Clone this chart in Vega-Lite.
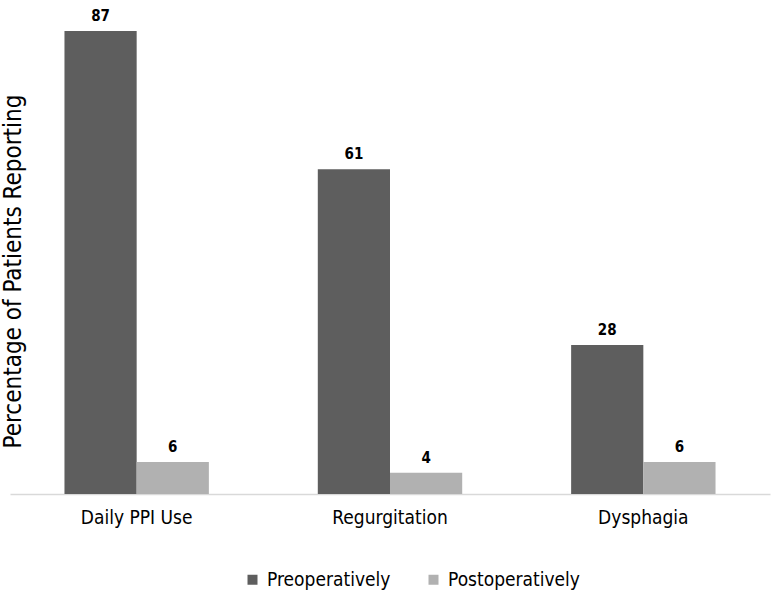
{
  "$schema": "https://vega.github.io/schema/vega-lite/v6.json",
  "autosize": {"type": "none"},
  "padding": {"left": 10, "top": 15, "right": 4, "bottom": 106},
  "width": 760,
  "height": 479,
  "background": "white",
  "config": {
    "view": {"stroke": null},
    "font": "Liberation Sans Narrow, DejaVu Sans Condensed, sans-serif"
  },
  "data": {
    "values": [
      {"symptom": "Daily PPI Use", "period": "Preoperatively", "pct": 87},
      {"symptom": "Daily PPI Use", "period": "Postoperatively", "pct": 6},
      {"symptom": "Regurgitation", "period": "Preoperatively", "pct": 61},
      {"symptom": "Regurgitation", "period": "Postoperatively", "pct": 4},
      {"symptom": "Dysphagia", "period": "Preoperatively", "pct": 28},
      {"symptom": "Dysphagia", "period": "Postoperatively", "pct": 6}
    ]
  },
  "encoding": {
    "x": {
      "field": "symptom",
      "type": "nominal",
      "sort": ["Daily PPI Use", "Regurgitation", "Dysphagia"],
      "scale": {"paddingInner": 0.43, "paddingOuter": 0.215},
      "axis": {
        "title": null,
        "labelAngle": 0,
        "labelFontSize": 19,
        "labelColor": "#000000",
        "labelPadding": 14,
        "ticks": false,
        "domainColor": "#d9d9d9",
        "domainWidth": 1.5
      }
    },
    "xOffset": {
      "field": "period",
      "type": "nominal",
      "sort": ["Preoperatively", "Postoperatively"]
    },
    "y": {
      "field": "pct",
      "type": "quantitative",
      "scale": {"domain": [0, 90]},
      "axis": {
        "title": "Percentage of Patients Reporting",
        "titleFontSize": 24,
        "titleFontWeight": "normal",
        "titleColor": "#000000",
        "titleX": 3,
        "titleY": 256,
        "titleAngle": -90,
        "titleAlign": "center",
        "titleBaseline": "middle",
        "labels": false,
        "ticks": false,
        "domain": false,
        "grid": false
      }
    }
  },
  "layer": [
    {
      "mark": {"type": "bar"},
      "encoding": {
        "color": {
          "field": "period",
          "type": "nominal",
          "sort": ["Preoperatively", "Postoperatively"],
          "scale": {"domain": ["Preoperatively", "Postoperatively"], "range": ["#5e5e5e", "#b1b1b1"]},
          "legend": {
            "title": null,
            "orient": "none",
            "direction": "horizontal",
            "legendX": 233,
            "legendY": 555,
            "symbolType": "square",
            "symbolSize": 100,
            "symbolStrokeWidth": 0,
            "labelFontSize": 19,
            "labelColor": "#000000",
            "columnPadding": 33,
            "labelOffset": 5
          }
        }
      }
    },
    {
      "mark": {"type": "text", "dy": -15, "fontSize": 15, "fontWeight": "bold", "color": "#000000"},
      "encoding": {
        "text": {"field": "pct", "type": "quantitative"}
      }
    }
  ]
}
